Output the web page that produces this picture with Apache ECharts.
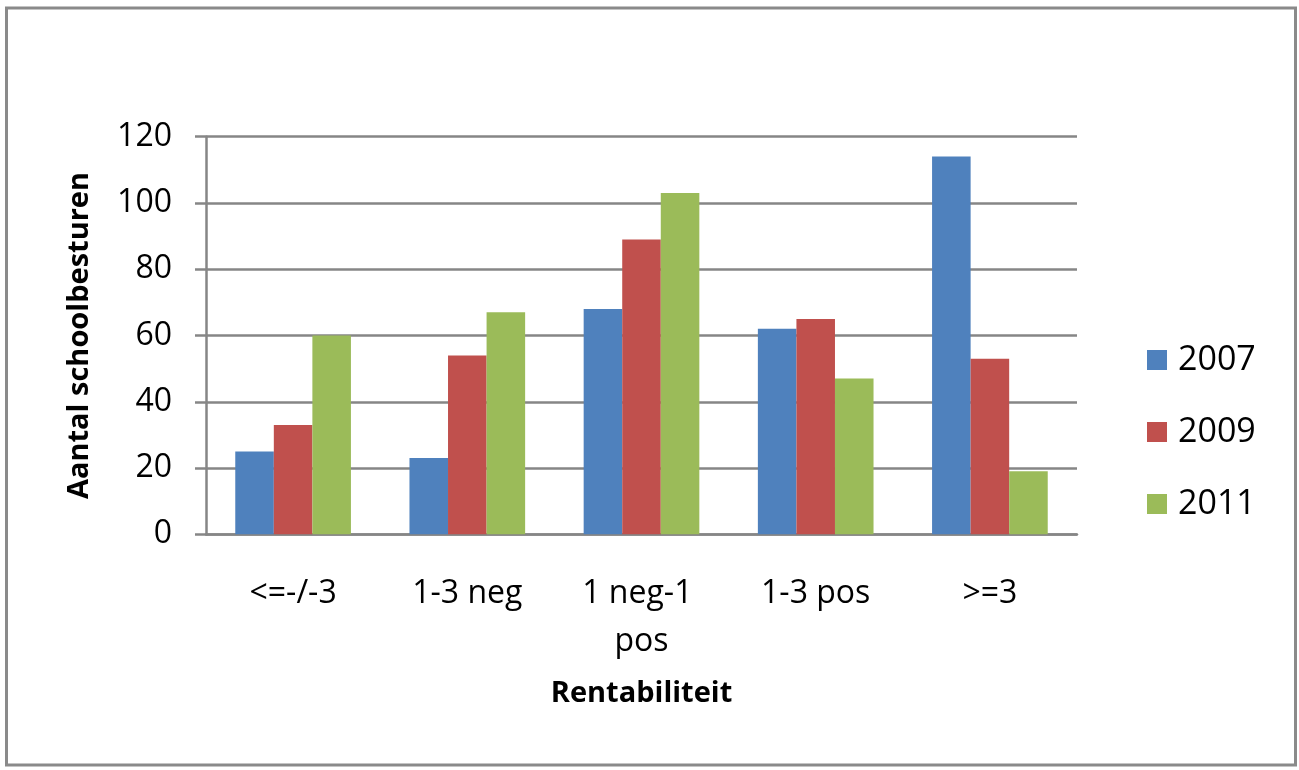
<!DOCTYPE html>
<html>
<head>
<meta charset="utf-8">
<script src="https://cdn.jsdelivr.net/npm/echarts@6/dist/echarts.min.js"></script>
<style>
html,body{margin:0;padding:0;background:#fff;}
#chart{width:1299px;height:770px;}
</style>
</head>
<body>
<div id="chart"></div>
<script>
const categories = ['<=-/-3', '1-3 neg', '1 neg-1 pos', '1-3 pos', '>=3'];
const seriesNames = ['2007', '2009', '2011'];
const values2007 = [25, 23, 68, 62, 114];
const values2009 = [33, 54, 89, 65, 53];
const values2011 = [60, 67, 103, 47, 19];
const yTicks = { min: 0, max: 120, interval: 20 };
const colors = ['#4F81BD', '#C0504D', '#9BBB59'];

const font = '"Open Sans", "Liberation Sans", sans-serif';
const chart = echarts.init(document.getElementById('chart'));
const dataSets = [values2007, values2009, values2011];

chart.setOption({
  animation: false,
  backgroundColor: '#ffffff',
  color: colors,
  graphic: [{
    type: 'rect',
    shape: { x: 6.5, y: 8, width: 1289, height: 757 },
    style: { fill: 'none', stroke: '#8a8a8a', lineWidth: 3 },
    silent: true
  }],
  grid: { left: 206, right: 222, top: 136.7, bottom: 235.7 },
  legend: {
    orient: 'vertical',
    left: 1142,
    top: 336,
    itemWidth: 20,
    itemHeight: 20,
    itemGap: 34,
    icon: 'rect',
    textStyle: { fontFamily: font, fontSize: 34, color: '#000', lineHeight: 38, padding: [0, 0, 0, 6] },
    data: seriesNames
  },
  xAxis: {
    type: 'category',
    data: categories,
    name: 'Rentabiliteit',
    nameLocation: 'middle',
    nameGap: 145,
    nameTextStyle: { fontFamily: font, fontSize: 29, fontWeight: 'bold', color: '#000' },
    axisLine: { lineStyle: { color: '#868686', width: 2.5 } },
    axisTick: { show: false },
    axisLabel: {
      fontFamily: font, fontSize: 32, color: '#000', margin: 36,
      width: 160, overflow: 'break', lineHeight: 48, interval: 0
    }
  },
  yAxis: {
    type: 'value',
    min: yTicks.min,
    max: yTicks.max,
    interval: yTicks.interval,
    name: 'Aantal schoolbesturen',
    nameLocation: 'middle',
    nameRotate: 90,
    nameGap: 112,
    nameTextStyle: { fontFamily: font, fontSize: 29, fontWeight: 'bold', color: '#000' },
    axisLine: { show: true, lineStyle: { color: '#868686', width: 2.5 } },
    axisTick: { show: true, length: 11, lineStyle: { color: '#868686', width: 2.5 } },
    axisLabel: { fontFamily: font, fontSize: 32, color: '#000', margin: 34 },
    splitLine: { show: true, lineStyle: { color: '#868686', width: 2.5 } }
  },
  series: seriesNames.map((n, i) => ({
    name: n,
    type: 'bar',
    data: dataSets[i],
    barGap: '0%',
    barCategoryGap: '33.6%',
    itemStyle: { color: colors[i] }
  }))
});
</script>
</body>
</html>
